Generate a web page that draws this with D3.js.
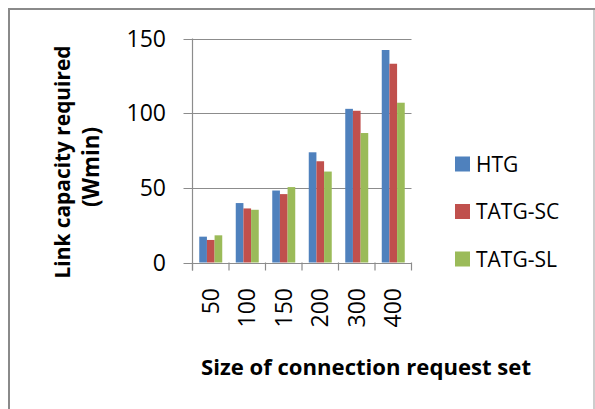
<!DOCTYPE html>
<html>
<head>
<meta charset="utf-8">
<script src="https://cdn.jsdelivr.net/npm/d3@7"></script>
<style>
  html, body { margin: 0; padding: 0; background: #fff; }
  svg { display: block; }
  text { font-family: "Open Sans", "DejaVu Sans", sans-serif; fill: #000; }
</style>
</head>
<body>
<svg id="chart" width="595" height="409"></svg>
<script>
// Connection request set sizes
const categories = ["50", "100", "150", "200", "300", "400"];
// Series names and values (link capacity, Wmin)
const seriesNames = ["HTG", "TATG-SC", "TATG-SL"];
const htg    = [17.3, 39.8, 48.2, 73.8, 102.9, 142.3];
const tatgSC = [15.1, 36.2, 45.8, 67.8, 101.6, 133.1];
const tatgSL = [18.2, 35.3, 50.5, 60.9, 86.7, 107.0];
const yTicks = [0, 50, 100, 150];

const seriesValues = [htg, tatgSC, tatgSL];
const colors = ["#4F81BD", "#C0504D", "#9BBB59"];

const svg = d3.select("#chart");
const W = 595, H = 409;

// Frame around the chart area
svg.append("line").attr("x1", 9).attr("x2", 9).attr("y1", 8).attr("y2", H)
  .attr("stroke", "#8a8a8a").attr("stroke-width", 2);
svg.append("line").attr("x1", 8).attr("x2", W).attr("y1", 9).attr("y2", 9)
  .attr("stroke", "#8a8a8a").attr("stroke-width", 2);
svg.append("line").attr("x1", 594).attr("x2", 594).attr("y1", 10).attr("y2", H)
  .attr("stroke", "#bdbdbd").attr("stroke-width", 1.5);

const plot = { left: 192.5, right: 411.5, top: 38.5, bottom: 262.5 };

const y = d3.scaleLinear().domain([0, 150]).range([plot.bottom, plot.top]);
const x = d3.scaleBand().domain(categories)
  .range([plot.left, plot.right])
  .paddingInner(0.37).paddingOuter(0.185);
const xs = d3.scaleBand().domain(seriesNames).range([0, x.bandwidth()]);

// Horizontal gridlines with left tick marks
svg.append("g").selectAll("line").data(yTicks).join("line")
  .attr("x1", plot.left - 9).attr("x2", plot.right)
  .attr("y1", d => Math.round(y(d)) + 0.5).attr("y2", d => Math.round(y(d)) + 0.5)
  .attr("stroke", "#8c8c8c").attr("stroke-width", 1);

// Y axis labels
svg.append("g").selectAll("text").data(yTicks).join("text")
  .attr("x", 166).attr("y", d => y(d))
  .attr("dy", "0.36em")
  .attr("text-anchor", "end")
  .style("font-size", "23px")
  .text(d => d);

// Bars
const groups = svg.append("g").selectAll("g").data(categories).join("g")
  .attr("transform", c => `translate(${x(c)},0)`);
groups.selectAll("rect")
  .data((c, i) => seriesNames.map((s, k) => ({ s, v: seriesValues[k][i], k })))
  .join("rect")
  .attr("x", d => xs(d.s))
  .attr("width", xs.bandwidth())
  .attr("y", d => y(d.v))
  .attr("height", d => y(0) - y(d.v))
  .attr("fill", d => colors[d.k]);

// Y axis line
svg.append("line").attr("x1", plot.left).attr("x2", plot.left)
  .attr("y1", plot.top).attr("y2", plot.bottom + 8)
  .attr("stroke", "#8c8c8c").attr("stroke-width", 1.2);

// X axis category boundary ticks
const step = x.step();
const bounds = d3.range(categories.length + 1).map(i => plot.left + i * step);
svg.append("g").selectAll("line").data(bounds).join("line")
  .attr("x1", d => d).attr("x2", d => d)
  .attr("y1", plot.bottom).attr("y2", plot.bottom + 8)
  .attr("stroke", "#8c8c8c").attr("stroke-width", 1.2);

// X axis labels, rotated
svg.append("g").selectAll("text").data(categories).join("text")
  .attr("transform", c => `translate(${x(c) + x.bandwidth() / 2 + 8},288) rotate(-90)`)
  .attr("text-anchor", "end")
  .style("font-size", "23px")
  .text(c => c);

// Fit a text element to a target width
function fit(sel, target, base) {
  sel.style("font-size", base + "px");
  const w = sel.node().getComputedTextLength();
  sel.style("font-size", (base * target / w).toFixed(2) + "px");
}

// Y axis title, two lines
const yt1 = svg.append("text")
  .attr("transform", "translate(70,162) rotate(-90)")
  .attr("text-anchor", "middle").style("font-weight", "bold")
  .text("Link capacity required");
fit(yt1, 233, 20);
const yt2 = svg.append("text")
  .attr("transform", "translate(99,167) rotate(-90)")
  .attr("text-anchor", "middle").style("font-weight", "bold")
  .text("(Wmin)");
fit(yt2, 80, 20);

// X axis title
const xt = svg.append("text")
  .attr("x", 366).attr("y", 375)
  .attr("text-anchor", "middle").style("font-weight", "bold")
  .text("Size of connection request set");
fit(xt, 330, 22);

// Legend
const legendY = [164, 211.5, 259];
const lg = svg.append("g").selectAll("g").data(seriesNames).join("g")
  .attr("transform", (d, i) => `translate(455,${legendY[i]})`);
lg.append("rect").attr("x", 0).attr("y", -7.5).attr("width", 15).attr("height", 15)
  .attr("fill", (d, i) => colors[i]);
lg.append("text").attr("x", 21).attr("dy", "0.36em")
  .style("font-size", "21px").text(d => d);
</script>
</body>
</html>
